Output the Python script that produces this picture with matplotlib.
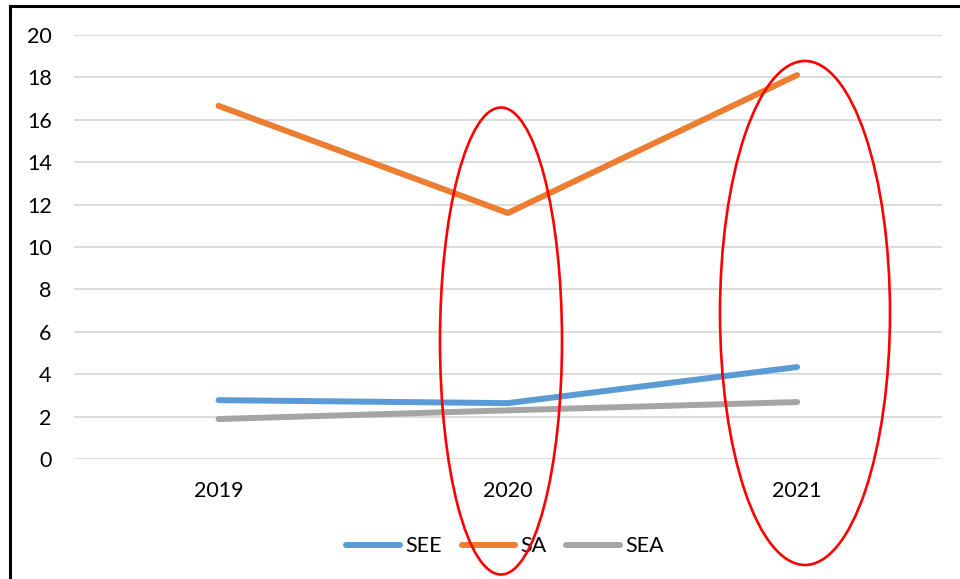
import matplotlib
matplotlib.use("Agg")
import matplotlib.pyplot as plt
from matplotlib.lines import Line2D
from matplotlib.patches import Ellipse

# data
years = ["2019", "2020", "2021"]
see = [2.78, 2.64, 4.34]
sa = [16.65, 11.6, 18.1]
sea = [1.89, 2.3, 2.69]

series = [("SEE", see, "#5B9BD5"), ("SA", sa, "#ED7D31"), ("SEA", sea, "#A5A5A5")]

plt.rcParams["font.family"] = ["Lato", "DejaVu Sans"]
FS = 15.5

fig = plt.figure(figsize=(9.6, 5.79), dpi=100)
ax = fig.add_axes([0.077, 0.207, 0.904, 0.733])

x = range(len(years))
for name, vals, col in series:
    ax.plot(x, vals, color=col, lw=4.3, solid_capstyle="round", label=name)

ax.set_xlim(-0.5, 2.5)
ax.set_ylim(0, 20)
ax.set_yticks(range(0, 21, 2))
ax.set_xticks(list(x))
ax.set_xticklabels(years)
ax.grid(axis="y", color="#d9d9d9", lw=1.3)
ax.set_axisbelow(True)
for s in ax.spines.values():
    s.set_visible(False)
ax.tick_params(axis="y", length=0, pad=16, labelsize=FS)
ax.tick_params(axis="x", length=0, pad=16, labelsize=FS)

# legend at the bottom
ax.legend(loc="center", bbox_to_anchor=(0.497, -0.205), ncol=3, frameon=False,
          fontsize=FS, handlelength=2.5, handletextpad=0.25, columnspacing=0.9)

# black frame (left and top edges only in view)
fig.add_artist(Line2D([9.5 / 960, 9.5 / 960], [0, 1 - 6 / 579], color="black", lw=2.2))
fig.add_artist(Line2D([9.5 / 960, 1], [1 - 6 / 579, 1 - 6 / 579], color="black", lw=2.2))

# red highlight ellipses
W, H = 960, 579
for cx, cy, w, h in [(501, 341, 122, 467), (805, 313, 170, 504)]:
    fig.add_artist(Ellipse((cx / W, 1 - cy / H), w / W, h / H,
                           transform=fig.transFigure, fill=False,
                           edgecolor="#ff0000", lw=1.9))

fig.savefig("out.png", dpi=100)
